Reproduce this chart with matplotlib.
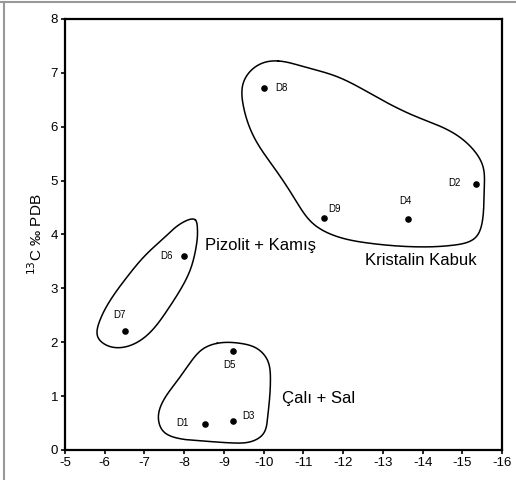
import matplotlib
matplotlib.use('Agg')
import matplotlib.pyplot as plt
from matplotlib.lines import Line2D
import numpy as np

plt.rcParams['font.family'] = ['Liberation Sans', 'DejaVu Sans']
plt.rcParams['axes.unicode_minus'] = False

# sample points (d18O on x, d13C on y)
names = ['D1', 'D2', 'D3', 'D4', 'D5', 'D6', 'D7', 'D8', 'D9']
x_vals = [-8.53, -15.35, -9.22, -13.63, -9.22, -8.0, -6.52, -10.0, -11.51]
y_vals = [0.48, 4.93, 0.535, 4.29, 1.83, 3.60, 2.20, 6.72, 4.30]
# label offsets in points (dx, dy, ha)
label_pos = {
    'D1': (-12, 1, 'right'), 'D2': (-11, 1, 'right'), 'D3': (7, 4, 'left'),
    'D4': (-2, 13, 'center'), 'D5': (-2, -10, 'center'), 'D6': (-8, 0, 'right'),
    'D7': (-4, 12, 'center'), 'D8': (8, 0, 'left'), 'D9': (3, 7, 'left'),
}

# group outlines (control points, smoothed into closed curves)
kristalin_x = [-10.37, -10.98, -11.81, -12.82, -13.83, -14.76, -15.27, -15.52,
               -15.55, -15.52, -15.34, -14.76, -13.91, -12.64, -11.74, -11.23,
               -10.80, -10.30, -9.79, -9.49, -9.49, -9.72, -10.05]
kristalin_y = [7.22, 7.12, 6.94, 6.56, 6.19, 5.89, 5.58, 5.26,
               4.83, 4.33, 3.95, 3.80, 3.77, 3.84, 3.99, 4.21,
               4.64, 5.20, 5.76, 6.38, 6.82, 7.07, 7.20]
pizolit_x = [-8.28, -8.33, -8.30, -8.15, -7.90, -7.57, -7.19, -6.82, -6.39,
             -6.06, -5.83, -5.88, -6.14, -6.56, -7.07, -7.57, -7.98]
pizolit_y = [4.27, 4.14, 3.77, 3.34, 2.97, 2.59, 2.22, 2.00, 1.90,
             1.94, 2.09, 2.41, 2.78, 3.21, 3.65, 3.99, 4.23]
cali_x = [-8.83, -9.41, -9.84, -10.10, -10.17, -10.15, -10.10, -9.99, -9.74,
          -9.24, -8.41, -7.83, -7.47, -7.35, -7.47, -7.83, -8.15, -8.48]
cali_y = [1.98, 1.98, 1.88, 1.66, 1.34, 0.97, 0.60, 0.30, 0.17,
          0.13, 0.17, 0.22, 0.35, 0.60, 0.91, 1.29, 1.62, 1.88]

group_labels = ['Pizolit + Kamış', 'Kristalin Kabuk', 'Çalı + Sal']
group_label_x = [-8.53, -13.96, -10.47]
group_label_y = [3.79, 3.51, 0.95]
group_label_ha = ['left', 'center', 'left']


def periodic_spline(px, py, n=30, xscale=0.74):
    # closed cubic spline through the control points, chord-length knots
    # (x scaled so that chords are measured roughly as on screen)
    p = np.column_stack([np.asarray(px) * xscale, py])
    m = len(p)
    h = np.sqrt((np.diff(np.vstack([p, p[:1]]), axis=0) ** 2).sum(axis=1))
    A = np.zeros((m, m))
    rhs = np.zeros((m, 2))
    for i in range(m):
        hp, hi = h[i - 1], h[i]
        A[i, i - 1] += hp
        A[i, i] += 2 * (hp + hi)
        A[i, (i + 1) % m] += hi
        rhs[i] = 6 * ((p[(i + 1) % m] - p[i]) / hi - (p[i] - p[i - 1]) / hp)
    M = np.linalg.solve(A, rhs)
    out = []
    for i in range(m):
        j = (i + 1) % m
        hi = h[i]
        t = np.linspace(0, hi, n, endpoint=False)[:, None]
        a = (hi - t) / hi
        b = t / hi
        s = (a * p[i] + b * p[j]
             + ((a ** 3 - a) * M[i] + (b ** 3 - b) * M[j]) * hi ** 2 / 6)
        out.append(s)
    out = np.vstack(out)
    out = np.vstack([out, out[:1]])
    return out[:, 0] / xscale, out[:, 1]


fig = plt.figure(figsize=(5.16, 4.80), dpi=100)
ax = fig.add_axes([0.126, 0.0625, 0.847, 0.898])

for gx, gy in [(kristalin_x, kristalin_y), (pizolit_x, pizolit_y), (cali_x, cali_y)]:
    sx, sy = periodic_spline(gx, gy)
    ax.plot(sx, sy, color='black', linewidth=1.1)

ax.scatter(x_vals, y_vals, s=14, color='black', zorder=3)
for n, xv, yv in zip(names, x_vals, y_vals):
    dx, dy, ha = label_pos[n]
    ax.annotate(n, (xv, yv), xytext=(dx, dy), textcoords='offset points',
                ha=ha, va='center', fontsize=7)

for t, tx, ty, ha in zip(group_labels, group_label_x, group_label_y, group_label_ha):
    ax.text(tx, ty, t, ha=ha, va='center', fontsize=12)

ax.set_xlim(-5, -16)
ax.set_ylim(0, 8)
ax.set_xticks(np.arange(-5, -17, -1))
ax.set_yticks(np.arange(0, 9, 1))
ax.tick_params(direction='out', length=3, width=1.2, labelsize=9.5, pad=2)
for s in ax.spines.values():
    s.set_linewidth(1.6)
ax.set_ylabel('$^{13}$C ‰ PDB', fontsize=11, labelpad=4)

# scanned page frame
fig.add_artist(Line2D([0.008, 0.008], [0, 0.996], transform=fig.transFigure,
                      color='#999999', linewidth=1.5))
fig.add_artist(Line2D([0, 1], [0.996, 0.996], transform=fig.transFigure,
                      color='#999999', linewidth=1.5))

plt.savefig('out.png', dpi=100)
